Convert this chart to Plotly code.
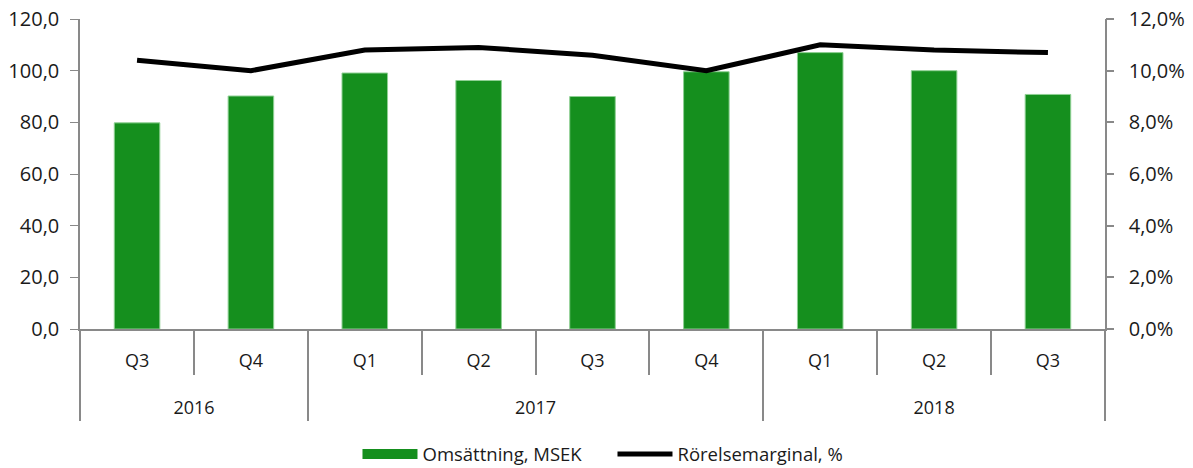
import plotly.graph_objects as go

years = ["2016", "2016", "2017", "2017", "2017", "2017", "2018", "2018", "2018"]
quarters = ["Q3", "Q4", "Q1", "Q2", "Q3", "Q4", "Q1", "Q2", "Q3"]
revenue = [79.8, 90.2, 99.1, 96.2, 90.0, 99.6, 107.0, 100.0, 90.8]
margin = [10.4, 10.0, 10.8, 10.9, 10.6, 10.0, 11.0, 10.8, 10.7]
left_ticks = [0, 20, 40, 60, 80, 100, 120]
right_ticks = [0, 2, 4, 6, 8, 10, 12]

FONT = "Open Sans"
AXIS = "#898989"
GREEN = "#158f1e"
CLEAR = "rgba(0,0,0,0)"
EPS = 1e-3

n = len(quarters)
xs = list(range(n))
xr = [-0.5 - EPS, n - 0.5 + EPS]
quarter_bounds = [i + 0.5 for i in range(n - 1)]
year_bounds = [-0.5] + [i + 0.5 for i in range(n - 1) if years[i] != years[i + 1]] + [n - 0.5]
year_names = []
year_centers = []
for y in dict.fromkeys(years):
    idx = [i for i, v in enumerate(years) if v == y]
    year_names.append(y)
    year_centers.append(sum(idx) / len(idx))

fig = go.Figure()
fig.add_trace(go.Bar(x=xs, y=revenue, name="Omsättning, MSEK",
                     marker=dict(color=GREEN, line=dict(color="#8fd094", width=1)),
                     width=0.4, showlegend=False, yaxis="y", hoverinfo="y"))
# legend entry with a wide rectangular swatch like the reference
fig.add_trace(go.Scatter(x=[xs[0]], y=[None], name="Omsättning, MSEK",
                         mode="lines", line=dict(color=GREEN, width=12), yaxis="y"))
fig.add_trace(go.Scatter(x=xs, y=margin, name="Rörelsemarginal, %",
                         mode="lines", line=dict(color="black", width=5), yaxis="y2"))
# empty helper traces so the separator / tick-mark axes get drawn
for ax in ["x2", "x3", "x4"]:
    fig.add_trace(go.Scatter(x=[None], y=[None], xaxis=ax, yaxis="y",
                             showlegend=False, hoverinfo="skip"))
fig.add_trace(go.Scatter(x=[None], y=[None], xaxis="x", yaxis="y3",
                         showlegend=False, hoverinfo="skip"))

common_x = dict(range=xr, showgrid=False, zeroline=False, automargin=False, fixedrange=True)
right_range = [0, 12 + EPS]

fig.update_layout(
    width=1193, height=468,
    margin=dict(l=80, r=88, t=19, b=139, autoexpand=False),
    plot_bgcolor="white", paper_bgcolor="white",
    separators=", ",
    font=dict(family=FONT, size=18, color="#1a1a1a"),
    showlegend=True,
    legend=dict(orientation="h", x=0.5195, xanchor="center", y=-0.405,
                yanchor="middle", font=dict(size=18.5), itemwidth=55,
                entrywidth=185, traceorder="normal"),
    xaxis=dict(**common_x, tickmode="array", tickvals=xs, ticktext=quarters,
               showline=True, linecolor=AXIS, linewidth=1.5,
               ticks="outside", ticklen=15, tickcolor=CLEAR, tickfont=dict(size=18)),
    xaxis2=dict(**common_x, overlaying="x", anchor="y", side="bottom",
                tickmode="array", tickvals=quarter_bounds, ticktext=[""] * len(quarter_bounds),
                ticks="outside", ticklen=45, tickcolor=AXIS, tickwidth=1.5, showline=False),
    xaxis3=dict(**common_x, overlaying="x", anchor="y", side="bottom",
                tickmode="array", tickvals=year_bounds, ticktext=[""] * len(year_bounds),
                ticks="outside", ticklen=91, tickcolor=AXIS, tickwidth=1.5, showline=False),
    xaxis4=dict(**common_x, overlaying="x", anchor="y", side="bottom",
                tickmode="array", tickvals=year_centers, ticktext=year_names,
                ticks="outside", ticklen=62, tickcolor=CLEAR, tickfont=dict(size=18),
                showline=False),
    yaxis=dict(range=[0, 120 + EPS * 10], tickmode="array", tickvals=left_ticks,
               tickformat=".1f", showgrid=False,
               showline=True, linecolor=AXIS, linewidth=1.5, ticks="outside",
               ticklen=8, tickcolor=AXIS, tickfont=dict(size=20), zeroline=False,
               automargin=False, ticklabelstandoff=7, ticklabeloverflow="allow"),
    yaxis2=dict(range=right_range, tickmode="array", tickvals=right_ticks,
                ticktext=[f"{v:.1f}%".replace(".", ",") for v in right_ticks],
                overlaying="y", side="right", anchor="x",
                showgrid=False, showline=True, linecolor=AXIS, linewidth=1.5,
                ticks="outside", ticklen=18, tickcolor=CLEAR, tickfont=dict(size=20),
                zeroline=False, automargin=False, ticklabeloverflow="allow"),
    yaxis3=dict(range=right_range, tickmode="array", tickvals=right_ticks,
                ticktext=[""] * len(right_ticks),
                overlaying="y", side="right", anchor="x",
                showgrid=False, showline=False, ticks="outside", ticklen=8,
                tickcolor=AXIS, tickwidth=1.5, zeroline=False, automargin=False),
)

fig.write_html("out.html", config={"displayModeBar": False},
               post_script="document.body.style.margin='0';")
